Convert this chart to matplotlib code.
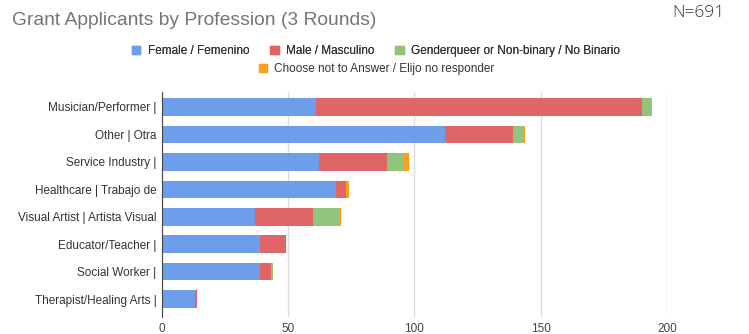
import numpy as np
import matplotlib
matplotlib.use("Agg")
import matplotlib.pyplot as plt
from matplotlib.patches import Patch

plt.rcParams['font.family'] = ['Liberation Sans', 'DejaVu Sans']

professions = ["Musician/Performer |", "Other | Otra", "Service Industry |",
               "Healthcare | Trabajo de", "Visual Artist | Artista Visual",
               "Educator/Teacher |", "Social Worker |", "Therapist/Healing Arts |"]

# counts per profession
female = [61, 112, 62, 69, 37, 39, 39, 13]
male = [129, 27, 27, 4, 23, 10, 4, 1]
nonbinary = [4, 4, 7, 0, 10, 0, 1, 0]
no_answer = [0, 1, 2, 1, 1, 0, 0, 0]

series = [
    ("Female / Femenino", female, "#6d9eeb"),
    ("Male / Masculino", male, "#e06666"),
    ("Genderqueer or Non-binary / No Binario", nonbinary, "#93c47d"),
    ("Choose not to Answer / Elijo no responder", no_answer, "#ff9d1c"),
]

fig = plt.figure(figsize=(7.49, 3.34), dpi=100)
ax = fig.add_axes([0.2163, 0.051, 0.674, 0.674])

y = np.arange(len(professions))
left = np.zeros(len(professions))
for name, vals, col in series:
    ax.barh(y, vals, left=left, height=0.64, color=col, label=name, zorder=3)
    left += np.array(vals)

ax.set_xlim(0, 200)
ax.set_ylim(len(professions) - 0.35, -0.55)
ax.set_yticks(y)
ax.set_yticklabels(professions, fontsize=8.5, color="#333333")
ax.set_xticks([0, 50, 100, 150, 200])
ax.tick_params(axis="x", labelsize=8.5, labelcolor="#444444", length=0, pad=4)
ax.tick_params(axis="y", length=0, pad=4)
ax.grid(axis="x", color="#dddddd", linewidth=1, zorder=0)
for s in ["top", "right", "bottom"]:
    ax.spines[s].set_visible(False)
ax.spines["left"].set_color("#444444")
ax.spines["left"].set_zorder(4)

fig.text(0.016, 0.94, "Grant Applicants by Profession (3 Rounds)", fontsize=13.9,
         color="#757575", va="center")
fig.text(0.898, 0.961, "N=691", fontsize=12.5, color="#333333", va="center",
         family=["Open Sans", "DejaVu Sans"], fontweight="light")

handles = [Patch(color=c, label=n) for n, _, c in series]
legend_kw = dict(frameon=False, fontsize=8.5, handlelength=0.7, handleheight=0.7,
                 handletextpad=0.6, borderpad=0, labelcolor="#333333")
leg1 = fig.legend(handles=handles[:3], loc="center", bbox_to_anchor=(0.502, 0.847),
                  ncol=3, columnspacing=1.8, **legend_kw)
leg2 = fig.legend(handles=handles[3:], loc="center", bbox_to_anchor=(0.503, 0.793),
                  **legend_kw)
fig.add_artist(leg1)

fig.savefig("out.png", dpi=100)
